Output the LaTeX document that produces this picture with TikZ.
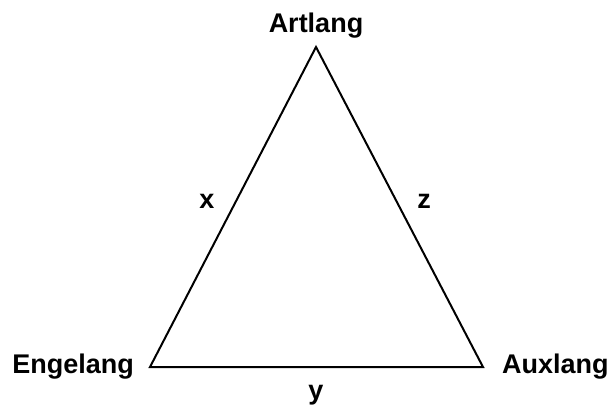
\documentclass[tikz,border=0pt]{standalone}
\usepackage{fontspec}
\setmainfont{Liberation Sans}
\usetikzlibrary{positioning}

\begin{document}
\begin{tikzpicture}[
  x=1pt, y=1pt,
  side/.style={draw=black, line width=2pt, line join=miter},
  lang/.style={font=\fontsize{27}{30}\selectfont\bfseries, inner sep=0pt},
  edgelbl/.style={font=\fontsize{27}{30}\selectfont\bfseries, inner sep=0pt}
]
  \useasboundingbox (0,0) rectangle (612,408);

  \coordinate (art) at (316,361);
  \coordinate (eng) at (150,41);
  \coordinate (aux) at (483,41);

  \draw[side] (art) -- (eng) -- (aux) -- cycle;

  \node[lang, above=9pt of art] (artlbl) {Artlang};
  \node[lang, left=16pt of eng] (englbl) {Engelang};
  \node[lang, right=19pt of aux] (auxlbl) {Auxlang};

  \node[edgelbl] (xlbl) at (207,207) {x};
  \node[edgelbl] (zlbl) at (424,207) {z};
  \node[edgelbl] (ylbl) at (316,13) {y};
\end{tikzpicture}
\end{document}
